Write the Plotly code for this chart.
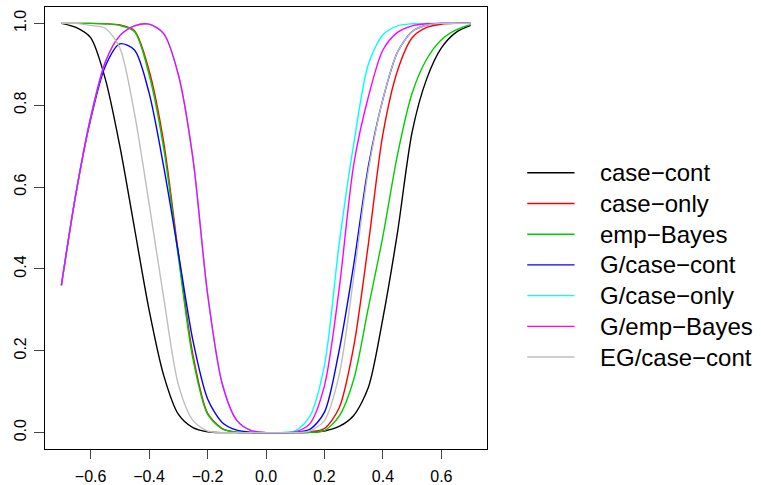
import plotly.graph_objects as go

# ── Data ──────────────────────────────────────────────────────────────────────

X = [-0.70, -0.65, -0.60, -0.55, -0.50, -0.45, -0.40, -0.35, -0.30, -0.25,
     -0.20, -0.15, -0.10, -0.05, 0.00, 0.05, 0.10, 0.15, 0.20, 0.25,
     0.30, 0.35, 0.40, 0.45, 0.50, 0.55, 0.60, 0.65, 0.70]

case_cont = [1.000, 0.990, 0.965, 0.865, 0.700, 0.500, 0.300, 0.140, 0.045, 0.012,
             0.002, 0.000, 0.000, 0.000, 0.000, 0.000, 0.000, 0.001, 0.004, 0.015,
             0.042, 0.110, 0.280, 0.490, 0.735, 0.865, 0.940, 0.978, 0.995]

case_only = [1.000, 1.000, 1.000, 0.999, 0.996, 0.982, 0.885, 0.710, 0.440, 0.190,
             0.048, 0.010, 0.001, 0.000, 0.000, 0.000, 0.000, 0.002, 0.010, 0.060,
             0.210, 0.460, 0.730, 0.885, 0.965, 0.990, 0.998, 1.000, 1.000]

emp_bayes = [1.000, 1.000, 1.000, 0.999, 0.995, 0.980, 0.875, 0.695, 0.430, 0.180,
             0.045, 0.009, 0.001, 0.000, 0.000, 0.000, 0.000, 0.001, 0.005, 0.040,
             0.130, 0.305, 0.480, 0.680, 0.830, 0.913, 0.960, 0.984, 0.997]

g_case_cont = [0.360, 0.585, 0.765, 0.895, 0.950, 0.935, 0.830, 0.650, 0.440, 0.225,
               0.083, 0.025, 0.006, 0.001, 0.000, 0.000, 0.001, 0.008, 0.050, 0.200,
               0.410, 0.650, 0.815, 0.930, 0.980, 0.996, 1.000, 1.000, 1.000]

g_case_only = [0.360, 0.585, 0.770, 0.905, 0.970, 0.994, 0.998, 0.975, 0.875, 0.670,
               0.340, 0.120, 0.030, 0.005, 0.000, 0.000, 0.004, 0.040, 0.165, 0.460,
               0.705, 0.900, 0.972, 0.994, 0.999, 1.000, 1.000, 1.000, 1.000]

g_emp_bayes = [0.360, 0.585, 0.770, 0.905, 0.970, 0.994, 0.998, 0.975, 0.875, 0.670,
               0.340, 0.120, 0.030, 0.005, 0.000, 0.000, 0.002, 0.022, 0.115, 0.350,
               0.655, 0.820, 0.935, 0.978, 0.994, 0.999, 1.000, 1.000, 1.000]

eg_case_cont = [1.000, 1.000, 0.995, 0.988, 0.940, 0.780, 0.560, 0.330, 0.118, 0.030,
                0.004, 0.000, 0.000, 0.000, 0.000, 0.000, 0.000, 0.004, 0.030, 0.140,
                0.380, 0.640, 0.815, 0.930, 0.980, 0.996, 1.000, 1.000, 1.000]

NAMES = ["case\u2212cont", "case\u2212only", "emp\u2212Bayes", "G/case\u2212cont",
         "G/case\u2212only", "G/emp\u2212Bayes", "EG/case\u2212cont"]
SERIES = [case_cont, case_only, emp_bayes, g_case_cont,
          g_case_only, g_emp_bayes, eg_case_cont]
COLORS = ["#000000", "#FF0000", "#00CD00", "#0000FF",
          "#00FFFF", "#FF00FF", "#BEBEBE"]

X_TICKS = [-0.6, -0.4, -0.2, 0.0, 0.2, 0.4, 0.6]
Y_TICKS = [0.0, 0.2, 0.4, 0.6, 0.8, 1.0]

FONT = "Liberation Sans, Arial, Helvetica, sans-serif"

# ── Figure ────────────────────────────────────────────────────────────────────

fig = go.Figure()

for name, ys, col in zip(NAMES, SERIES, COLORS):
    fig.add_trace(go.Scatter(
        x=X, y=ys, mode="lines", name=name,
        line=dict(color=col, width=1.4, shape="spline", smoothing=0.8),
        showlegend=False,
    ))

# hand-drawn legend, R style (long line samples, no box)
leg_y0, leg_dy = 0.625, 0.0695
for i, (name, col) in enumerate(zip(NAMES, COLORS)):
    y = leg_y0 - i * leg_dy
    fig.add_shape(type="line", xref="paper", yref="paper",
                  x0=1.091, x1=1.198, y0=y, y1=y,
                  line=dict(color=col, width=1.4))
    fig.add_annotation(xref="paper", yref="paper", x=1.250, y=y,
                       text=name, showarrow=False, xanchor="left", yanchor="middle",
                       font=dict(size=24, color="black", family=FONT))

axis_common = dict(
    showline=True, linecolor="black", linewidth=1, mirror=True,
    showgrid=False, zeroline=False, ticks="outside", tickcolor="#444",
    tickwidth=1, tickfont=dict(size=16, color="black", family=FONT),
    tickformat=".1f", automargin=False,
)

fig.update_xaxes(range=[-0.756, 0.756], tickvals=X_TICKS, ticklen=9,
                 ticklabelstandoff=4, **axis_common)
fig.update_yaxes(range=[-0.04, 1.04], tickvals=Y_TICKS, ticklen=10,
                 tickangle=-90, ticklabelstandoff=2, **axis_common)

fig.update_layout(
    width=761, height=485,
    margin=dict(l=45, r=274, t=7, b=36),
    paper_bgcolor="white", plot_bgcolor="white",
    font=dict(family=FONT, color="black"),
)

# the page's default body margin would push the 761x485 figure off the window
fig.write_html("out.html", config={"displayModeBar": False},
               post_script="document.body.style.margin='0px';")
